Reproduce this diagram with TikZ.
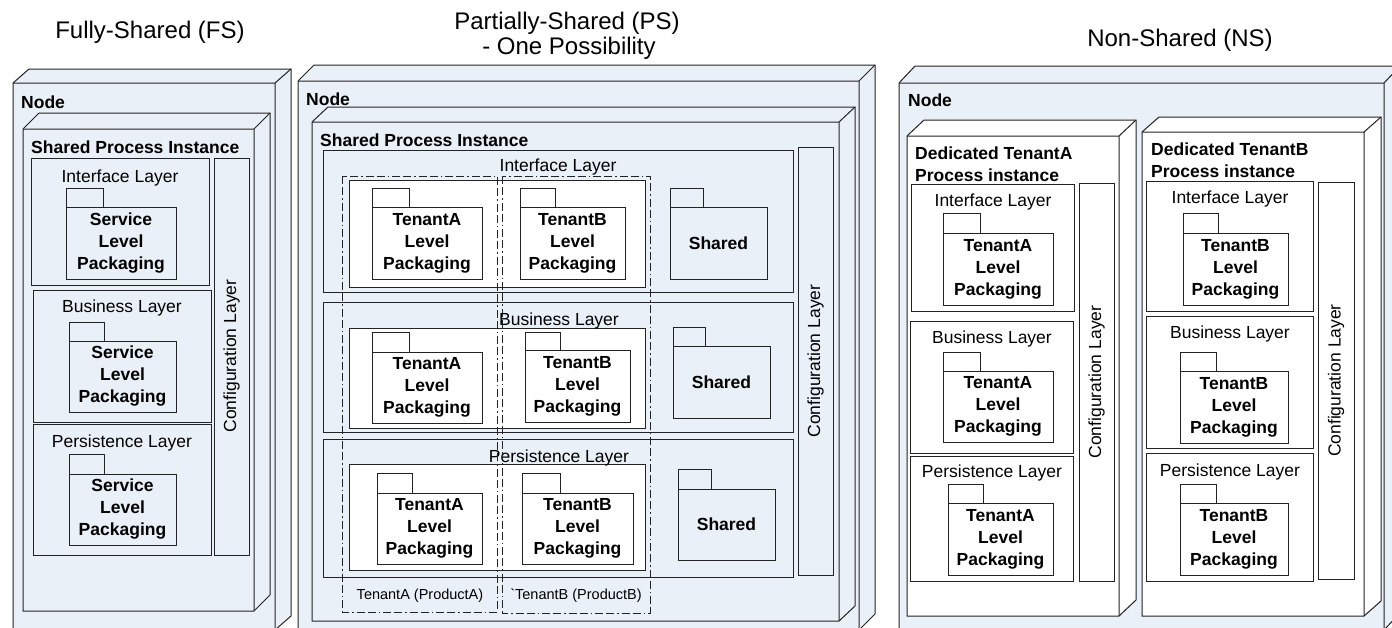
\documentclass[tikz,border=0pt]{standalone}
\usepackage{fontspec}
\setmainfont{Liberation Sans}
\definecolor{lb}{RGB}{234,240,248}
\definecolor{ln}{RGB}{35,35,35}
\tikzset{
  box/.style={draw=ln, line width=1pt},
  pkgtext/.style={font=\fontsize{17.5}{22}\selectfont\bfseries, align=center, inner sep=0pt},
  lay/.style={font=\fontsize{17.5}{20}\selectfont, inner sep=0pt},
  head/.style={font=\fontsize{17.5}{22}\selectfont\bfseries, inner sep=0pt, anchor=west, align=left},
  ttl/.style={font=\fontsize{24}{26}\selectfont, inner sep=0pt},
  tlab/.style={font=\fontsize{14.5}{16}\selectfont, inner sep=0pt},
  tenantbox/.style={draw=ln, line width=1pt, dash pattern=on 8pt off 3pt on 8pt off 3pt on 1.5pt off 3pt},
}
% cube: x1 y1 x2 y2 dx dy fill
\newcommand\cubebox[7]{%
  \filldraw[box,fill=#7] (#1,#2) -- ({#1+#5},{#2-#6}) -- ({#3+#5},{#2-#6}) -- ({#3+#5},{#4-#6}) -- (#3,#4) -- (#1,#4) -- cycle;
  \draw[box] (#1,#2) -- (#3,#2) -- (#3,#4) (#3,#2) -- ({#3+#5},{#2-#6});
}
% package: name x1 ytab xtab ybody x2 y2 fill text
\newcommand\pkg[9]{%
  \draw[box,fill=#8] (#2,#3) rectangle (#4,#5);
  \draw[box,fill=#8] (#2,#5) rectangle (#6,#7);
  \node[pkgtext] (#1) at ({(#2+#6)/2},{(#5+#7)/2}) {#9};
}
\newcommand\layerbox[5]{% x1 y1 x2 y2 fill
  \draw[box,fill=#5] (#1,#2) rectangle (#3,#4);
}
\begin{document}
\begin{tikzpicture}[x=1pt,y=-1pt]
\useasboundingbox (0,0) rectangle (1392,627);
\fill[white] (0,0) rectangle (1392,627);

% ---------- titles
\node[ttl] (tfs) at (150,32) {Fully-Shared (FS)};
\node[ttl] (tps1) at (567,23) {Partially-Shared (PS)};
\node[ttl] (tps2) at (569,48) {- One Possibility};
\node[ttl] (tns) at (1180,40) {Non-Shared (NS)};

% ================= FS
\cubebox{13}{83}{275}{630}{16}{14}{lb}
\node[head] (fsnode) at (21,102) {Node};
\cubebox{23}{129}{254}{611}{16}{16}{lb}
\node[head] (fsspi) at (31,147) {Shared Process Instance};
\layerbox{31}{158}{209}{285}{lb}
\layerbox{33}{290}{211}{422}{lb}
\layerbox{33}{424}{211}{555}{lb}
\layerbox{214}{158}{249}{555}{lb}
\node[lay] (fsli) at (120,178) {Interface Layer};
\node[lay] (fslb) at (122,308) {Business Layer};
\node[lay] (fslp) at (122,443) {Persistence Layer};
\node[lay,rotate=90] (fscfg) at (231.5,356) {Configuration Layer};
\pkg{fsI}{66}{188}{103}{207}{176}{279}{lb}{Service\\Level\\Packaging}
\pkg{fsB}{69}{322}{104}{341}{176}{412}{lb}{Service\\Level\\Packaging}
\pkg{fsP}{69}{454}{104}{474}{176}{545}{lb}{Service\\Level\\Packaging}

% ================= PS
\cubebox{298}{81}{859}{630}{16}{16}{lb}
\node[head] (psnode) at (306,99) {Node};
\cubebox{312}{122}{839}{621}{16}{15}{lb}
\node[head] (psspi) at (320,140) {Shared Process Instance};
\layerbox{323}{150}{793}{292}{lb}
\layerbox{323}{302}{793}{432}{lb}
\layerbox{323}{439}{793}{577}{lb}
\layerbox{798}{147}{833}{575}{lb}
\node[lay,rotate=90] (pscfg) at (815.5,361) {Configuration Layer};
% white group boxes
\layerbox{349}{180}{645}{287}{white}
\layerbox{349}{328}{645}{428}{white}
\layerbox{349}{464}{645}{570}{white}
\node[lay] (psli) at (558,167) {Interface Layer};
\node[lay] (pslb) at (559,321) {Business Layer};
\node[lay] (pslp) at (559,458) {Persistence Layer};
\pkg{psIA}{372}{188}{409}{207}{482}{279}{white}{TenantA\\Level\\Packaging}
\pkg{psIB}{520}{188}{555}{207}{625}{279}{white}{TenantB\\Level\\Packaging}
\pkg{psIS}{670}{188}{703}{207}{767}{279}{lb}{Shared}
\pkg{psBA}{372}{332}{409}{352}{482}{423}{white}{TenantA\\Level\\Packaging}
\pkg{psBB}{525}{332}{560}{350}{630}{422}{white}{TenantB\\Level\\Packaging}
\pkg{psBS}{673}{327}{705}{346}{770}{418}{lb}{Shared}
\pkg{psPA}{377}{473}{412}{493}{482}{564}{white}{TenantA\\Level\\Packaging}
\pkg{psPB}{522}{473}{560}{493}{633}{564}{white}{TenantB\\Level\\Packaging}
\pkg{psPS}{678}{469}{711}{489}{775}{560}{lb}{Shared}
% tenant dashed boxes
\draw[tenantbox] (342,176) rectangle (497,612);
\draw[tenantbox] (502,176) rectangle (650,613);
\node[tlab] (tpa) at (420,596) {TenantA (ProductA)};
\node[tlab] (tpb) at (576,596) {\textasciigrave TenantB (ProductB)};

% ================= NS
\cubebox{899}{83}{1384}{630}{16}{17}{lb}
\node[head] (nsnode) at (908,100) {Node};
% dedicated A
\cubebox{907}{136}{1119}{616}{17}{16}{white}
\node[head] (nsa) at (915,164) {Dedicated TenantA\\Process instance};
\layerbox{911}{184}{1074}{311}{white}
\layerbox{910}{321}{1073}{453}{white}
\layerbox{910}{456}{1073}{581}{white}
\layerbox{1079}{183}{1114}{581}{white}
\node[lay] (nali) at (993,202) {Interface Layer};
\node[lay] (nalb) at (992,339) {Business Layer};
\node[lay] (nalp) at (992,473) {Persistence Layer};
\node[lay,rotate=90] (nacfg) at (1096.5,382) {Configuration Layer};
\pkg{naI}{943}{213}{980}{233}{1053}{305}{white}{TenantA\\Level\\Packaging}
\pkg{naB}{943}{352}{980}{371}{1053}{442}{white}{TenantA\\Level\\Packaging}
\pkg{naP}{948}{484}{983}{503}{1053}{575}{white}{TenantA\\Level\\Packaging}
% dedicated B
\cubebox{1142}{132}{1364}{616}{17}{15}{white}
\node[head] (nsb) at (1151,160.5) {Dedicated TenantB\\Process instance};
\layerbox{1146}{181}{1313}{311}{white}
\layerbox{1146}{316}{1313}{448}{white}
\layerbox{1146}{453}{1313}{581}{white}
\layerbox{1318}{182}{1354}{579}{white}
\node[lay] (nbli) at (1230,199) {Interface Layer};
\node[lay] (nblb) at (1230,334) {Business Layer};
\node[lay] (nblp) at (1230,472) {Persistence Layer};
\node[lay,rotate=90] (nbcfg) at (1336,380.5) {Configuration Layer};
\pkg{nbI}{1183}{213}{1218}{233}{1288}{305}{white}{TenantB\\Level\\Packaging}
\pkg{nbB}{1180}{352}{1216}{371}{1288}{443}{white}{TenantB\\Level\\Packaging}
\pkg{nbP}{1180}{484}{1216}{503}{1288}{575}{white}{TenantB\\Level\\Packaging}
\end{tikzpicture}
\end{document}
